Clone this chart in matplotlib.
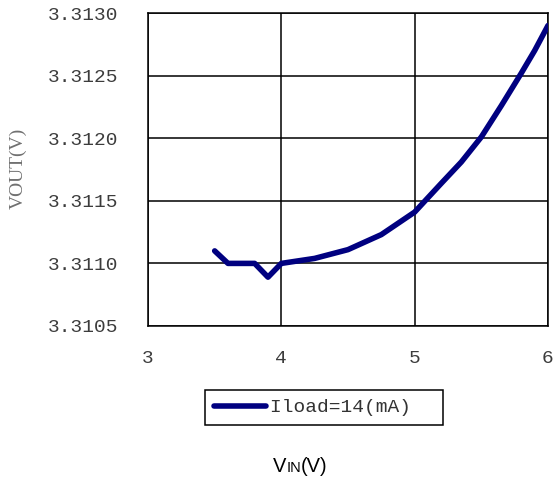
import matplotlib
matplotlib.use('Agg')
import matplotlib.pyplot as plt

# 输入电压扫描下的输出电压 (Iload = 14 mA)
vin = [3.5, 3.6, 3.8, 3.9, 4.0, 4.25, 4.5, 4.75, 5.0, 5.2, 5.35, 5.5, 5.65, 5.8, 5.9, 6.0]
vout = [3.31110, 3.31100, 3.31100, 3.31089, 3.31100, 3.31104, 3.31111, 3.31123,
        3.31141, 3.31164, 3.31181, 3.31201, 3.31226, 3.31252, 3.31270, 3.31290]
series_label = 'Iload=14(mA)'
xticks = [3, 4, 5, 6]
yticks = [3.3105, 3.3110, 3.3115, 3.3120, 3.3125, 3.3130]

navy = '#000080'
tick_c = '#3c3c3c'
mono = ['Liberation Mono', 'DejaVu Sans Mono']

fig = plt.figure(figsize=(5.55, 4.79), dpi=100, facecolor='white')
ax = fig.add_axes([148/555, 1-326/479, 400/555, 313/479])

ax.plot(vin, vout, color=navy, lw=4.0, solid_capstyle='round', solid_joinstyle='round',
        label=series_label + '  ', zorder=3)

ax.set_xlim(3, 6)
ax.set_ylim(3.3105, 3.3130)
ax.set_xticks(xticks)
ax.set_yticks(yticks)
ax.set_xticklabels([str(t) for t in xticks])
ax.set_yticklabels([f'{t:.4f}' for t in yticks])
for lab in ax.get_xticklabels() + ax.get_yticklabels():
    lab.set_family(mono)
    lab.set_fontsize(14)
    lab.set_color(tick_c)
ax.tick_params(axis='both', length=0)
ax.tick_params(axis='x', pad=17)
ax.tick_params(axis='y', pad=21)

ax.grid(True, color='black', lw=1.1)
for sp in ax.spines.values():
    sp.set_color('black')
    sp.set_linewidth(1.1)

ax.set_ylabel('VOUT(V)', family=['Liberation Serif', 'DejaVu Serif'], fontsize=14, color='#707070')
ax.yaxis.set_label_coords(-0.303, 0.505)

leg = ax.legend(loc='center', bbox_to_anchor=(324/555, 1-407.5/479), bbox_transform=fig.transFigure,
                fancybox=False, framealpha=1, edgecolor='black', handlelength=2.7,
                handletextpad=0.2, borderpad=0.45, borderaxespad=0,
                prop={'family': mono, 'size': 14})
leg.get_frame().set_linewidth(1.1)
for t in leg.get_texts():
    t.set_color('#333333')

# 横轴标题 V_IN(V), IN 为小号字
sans = ['Liberation Sans', 'DejaVu Sans']
fig.text(273/555, 1-472/479, 'V', family=sans, fontsize=14.5, color='black', va='baseline')
fig.text(287/555, 1-472/479, 'IN', family=sans, fontsize=10.5, color='black', va='baseline')
fig.text(301/555, 1-472/479, '(V)', family=sans, fontsize=14.5, color='black', va='baseline')

fig.savefig('out.png', dpi=100, facecolor='white')
